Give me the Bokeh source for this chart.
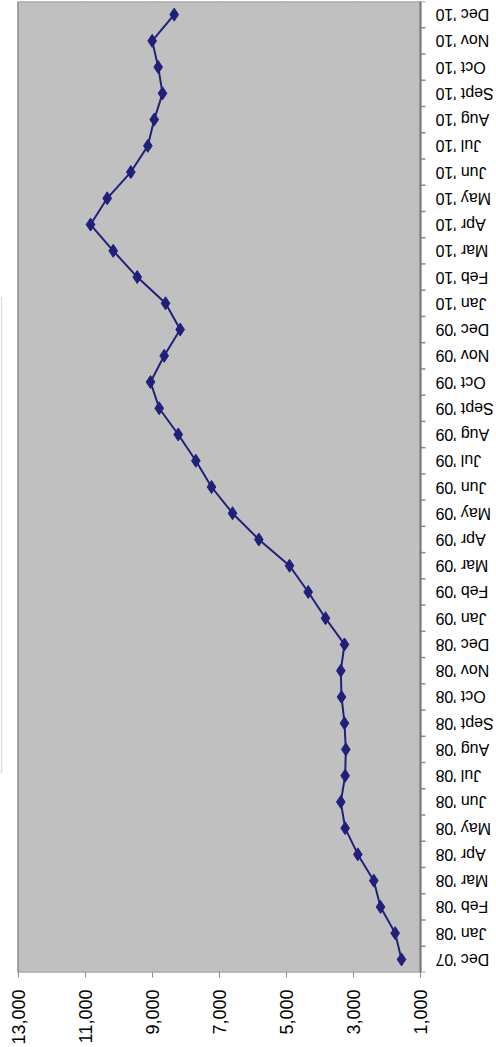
import math

from bokeh.core.properties import value
from bokeh.embed import file_html
from bokeh.models import (BoxAnnotation, ColumnDataSource, FixedTicker, Grid,
                          LinearAxis, NumeralTickFormatter, Range1d, Span)
from bokeh.plotting import figure
from bokeh.resources import INLINE

# Monthly series, Dec '07 through Dec '10
months = [
    "Dec '07",
    "Jan '08", "Feb '08", "Mar '08", "Apr '08", "May '08", "Jun '08",
    "Jul '08", "Aug '08", "Sept '08", "Oct '08", "Nov '08", "Dec '08",
    "Jan '09", "Feb '09", "Mar '09", "Apr '09", "May '09", "Jun '09",
    "Jul '09", "Aug '09", "Sept '09", "Oct '09", "Nov '09", "Dec '09",
    "Jan '10", "Feb '10", "Mar '10", "Apr '10", "May '10", "Jun '10",
    "Jul '10", "Aug '10", "Sept '10", "Oct '10", "Nov '10", "Dec '10",
]
values = [
    1566,
    1755, 2192, 2392, 2869, 3246, 3376,
    3246, 3226, 3266, 3355, 3376, 3266,
    3832, 4348, 4905, 5820, 6604, 7230,
    7698, 8223, 8790, 9049, 8641, 8165,
    8601, 9445, 10161, 10837, 10340, 9636,
    9129, 8939, 8691, 8820, 8999, 8343,
]
value_ticks = [1000, 3000, 5000, 7000, 9000, 11000, 13000]

n = len(months)
pos = list(range(n))
source = ColumnDataSource(data=dict(month=months, pos=pos, value=values))
edges = ColumnDataSource(data=dict(b=[i - 0.5 for i in range(n + 1)]))

LINE = "#20207a"
GRID = "#6a6a6a"
FRAME = "#8a8a8a"
FONT = "Liberation Sans"

# page geometry (pixels): plot area spans 17.5..420 horizontally,
# the frame covers the full width so the month labels can sit right of it
W, H = 496, 1047
AREA_L, AREA_R = 17.5, 420.0
vmin, vmax = min(value_ticks), max(value_ticks)
upp = (vmax - vmin) / (AREA_R - AREA_L)          # value units per pixel

p = figure(
    width=W, height=H,
    x_range=Range1d(vmax + AREA_L * upp, vmin - (W - AREA_R) * upp),
    y_range=Range1d(-0.5, n - 0.5),
    x_axis_location=None, y_axis_location=None,
    min_border_left=0, min_border_right=0,
    min_border_top=1, min_border_bottom=75,
    background_fill_color="white", border_fill_color="white",
    outline_line_color=None,
    toolbar_location=None, output_backend="svg",
)

# grey plot area
p.quad(left=vmax, right=vmin, bottom=-0.5, top=n - 0.5,
       fill_color="#c0c0c0", line_color=FRAME, line_width=1.5)

p.xgrid.grid_line_color = None
p.ygrid.grid_line_color = None
p.add_layout(Grid(dimension=0, ticker=FixedTicker(ticks=value_ticks[1:-1]),
                  grid_line_color=GRID, grid_line_width=1.5))

# value axis along the bottom, high values on the left, labels turned
xaxis = LinearAxis(
    ticker=FixedTicker(ticks=value_ticks, minor_ticks=[]),
    formatter=NumeralTickFormatter(format="0,0"),
    major_label_orientation=math.pi / 2,
    major_label_standoff=12,
    major_tick_in=0, major_tick_out=5,
    major_tick_line_color=FRAME,
    axis_line_color=None,
    major_label_text_font=FONT, major_label_text_font_size="18px",
    major_label_text_color="black",
)
p.add_layout(xaxis, "below")

# month axis line with tick marks between months
p.add_layout(Span(location=vmin, dimension="height",
                  line_color="#7a7a7a", line_width=2))
p.segment(x0=vmin, x1=vmin - 5 * upp, y0="b", y1="b", source=edges,
          line_color=FRAME, line_width=1.5)

# month names, upside down, beside the month axis
p.text(x=vmin, y="pos", text="month", source=source,
       x_offset=15, angle=math.pi,
       text_align="right", text_baseline="middle",
       text_font=value(FONT), text_font_size=value("16px"),
       text_color="black")

# series
p.line(x="value", y="pos", source=source, line_color=LINE, line_width=2)
p.scatter(x="value", y="pos", source=source, marker="diamond", size=13,
          fill_color=LINE, line_color=LINE)

# edge of the legend frame at the far left
p.add_layout(BoxAnnotation(
    left=-80, right=1, top=297, bottom=772,
    left_units="canvas", right_units="canvas",
    top_units="canvas", bottom_units="canvas",
    fill_alpha=0, line_color=FRAME, line_width=1.5,
))

open("out.html", "w").write(file_html(p, INLINE))
